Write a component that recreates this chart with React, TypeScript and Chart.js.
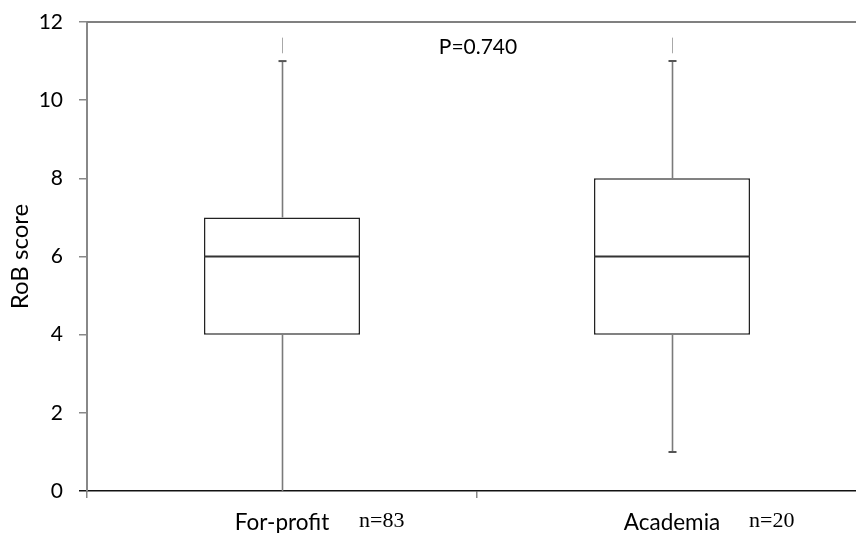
import React, { useEffect, useRef } from "react";
import { Chart, registerables } from "chart.js";

Chart.register(...registerables);

const categories = ["For-profit", "Academia"];
const sampleSizes = ["n=83", "n=20"];
const whiskerLow = [0, 1];
const q1 = [4, 4];
const median = [6, 6];
const q3 = [7, 8];
const whiskerHigh = [11, 11];
const faintTopStart = [11.2, 11.2];
const faintTopEnd = [11.6, 11.6];
const yMin = 0;
const yMax = 12;
const yStep = 2;
const pValueLabel = "P=0.740";
const yTitle = "RoB score";

const SANS = "Lato, 'Open Sans', sans-serif";
const SERIF = "'Liberation Serif', 'DejaVu Serif', serif";

const boxPlugin = {
  id: "boxExtras",
  afterDatasetsDraw(chart: any) {
    const ctx = chart.ctx;
    const y = chart.scales.y;
    const meta = chart.getDatasetMeta(0);
    const area = chart.chartArea;
    ctx.save();
    // top frame line
    ctx.strokeStyle = "#808080";
    ctx.lineWidth = 2;
    ctx.beginPath();
    ctx.moveTo(area.left, area.top);
    ctx.lineTo(area.right, area.top);
    ctx.stroke();

    meta.data.forEach((bar: any, i: number) => {
      const cx = Math.round(bar.x) + 0.5;
      const half = bar.width / 2;
      // whiskers
      ctx.strokeStyle = "#7a7a7a";
      ctx.lineWidth = 1.6;
      ctx.beginPath();
      ctx.moveTo(cx, y.getPixelForValue(q3[i]));
      ctx.lineTo(cx, y.getPixelForValue(whiskerHigh[i]));
      ctx.moveTo(cx, y.getPixelForValue(q1[i]));
      ctx.lineTo(cx, y.getPixelForValue(whiskerLow[i]));
      ctx.stroke();
      // caps
      ctx.strokeStyle = "#555";
      ctx.lineWidth = 2;
      ctx.beginPath();
      ctx.moveTo(cx - 4, y.getPixelForValue(whiskerHigh[i]));
      ctx.lineTo(cx + 4, y.getPixelForValue(whiskerHigh[i]));
      if (whiskerLow[i] > yMin) {
        ctx.moveTo(cx - 4, y.getPixelForValue(whiskerLow[i]));
        ctx.lineTo(cx + 4, y.getPixelForValue(whiskerLow[i]));
      }
      ctx.stroke();
      // faint segment above max
      ctx.strokeStyle = "#a8a8a8";
      ctx.lineWidth = 1;
      ctx.beginPath();
      ctx.moveTo(cx, y.getPixelForValue(faintTopStart[i]));
      ctx.lineTo(cx, y.getPixelForValue(faintTopEnd[i]));
      ctx.stroke();
      // median
      ctx.strokeStyle = "#333";
      ctx.lineWidth = 2;
      const my = y.getPixelForValue(median[i]);
      ctx.beginPath();
      ctx.moveTo(bar.x - half, my);
      ctx.lineTo(bar.x + half, my);
      ctx.stroke();
      // sample size text
      ctx.fillStyle = "#000";
      ctx.font = `22px ${SERIF}`;
      ctx.textAlign = "left";
      ctx.textBaseline = "alphabetic";
      ctx.fillText(sampleSizes[i], bar.x + 77, 527);
    });

    // P value
    if (meta.data.length >= 2) {
      const mid = (meta.data[0].x + meta.data[1].x) / 2;
      ctx.fillStyle = "#000";
      ctx.font = `21px ${SANS}`;
      ctx.textAlign = "center";
      ctx.textBaseline = "alphabetic";
      ctx.fillText(pValueLabel, mid + 1, area.top + 32);
    }
    ctx.restore();
  },
};

export default function App() {
  const ref = useRef<HTMLCanvasElement>(null);
  useEffect(() => {
    if (!ref.current) return;
    const chart = new Chart(ref.current, {
      type: "bar",
      data: {
        labels: categories,
        datasets: [
          {
            data: q1.map((v, i) => [v, q3[i]]) as any,
            backgroundColor: "#ffffff",
            borderColor: "#222222",
            borderWidth: 1.5,
            borderSkipped: false,
            barPercentage: 0.4,
            categoryPercentage: 1,
          },
        ],
      },
      options: {
        responsive: false,
        devicePixelRatio: 1,
        animation: false,
        layout: { padding: { top: 22, right: 13, left: 0, bottom: 0 } },
        plugins: { legend: { display: false }, tooltip: { enabled: false } },
        scales: {
          x: {
            type: "category",
            offset: true,
            grid: {
              offset: true,
              drawOnChartArea: false,
              tickLength: 7,
              color: "#888",
              lineWidth: 1.5,
            },
            border: { color: "#111", width: 1.5 },
            ticks: {
              color: "#000",
              font: { family: SANS, size: 22.5 },
              padding: 11,
              maxRotation: 0,
            },
            afterFit(scale: any) {
              scale.height = 42;
              scale.paddingLeft = 0;
              scale.paddingRight = 0;
            },
          },
          y: {
            min: yMin,
            max: yMax,
            ticks: {
              stepSize: yStep,
              color: "#000",
              font: { family: SANS, size: 21 },
              padding: 16,
            },
            grid: {
              drawOnChartArea: false,
              tickLength: 8,
              color: (c: any) => (c.tick && c.tick.value === 0 ? "#111" : "#888"),
              lineWidth: 1.5,
            },
            border: { color: "#888", width: 2 },
            title: {
              display: true,
              text: yTitle,
              color: "#000",
              font: { family: SANS, size: 24 },
              padding: { top: 6, bottom: 0 },
            },
            afterFit(scale: any) {
              scale.width = 87;
              scale.paddingTop = 0;
              scale.paddingBottom = 0;
            },
          },
        },
      },
      plugins: [boxPlugin],
    });
    return () => chart.destroy();
  }, []);
  return (
    <div
      style={{
        position: "fixed",
        left: 0,
        top: 0,
        width: 856,
        height: 533,
        overflow: "hidden",
        background: "#fff",
      }}
    >
      <canvas ref={ref} width={880} height={533} style={{ display: "block" }} />
    </div>
  );
}
